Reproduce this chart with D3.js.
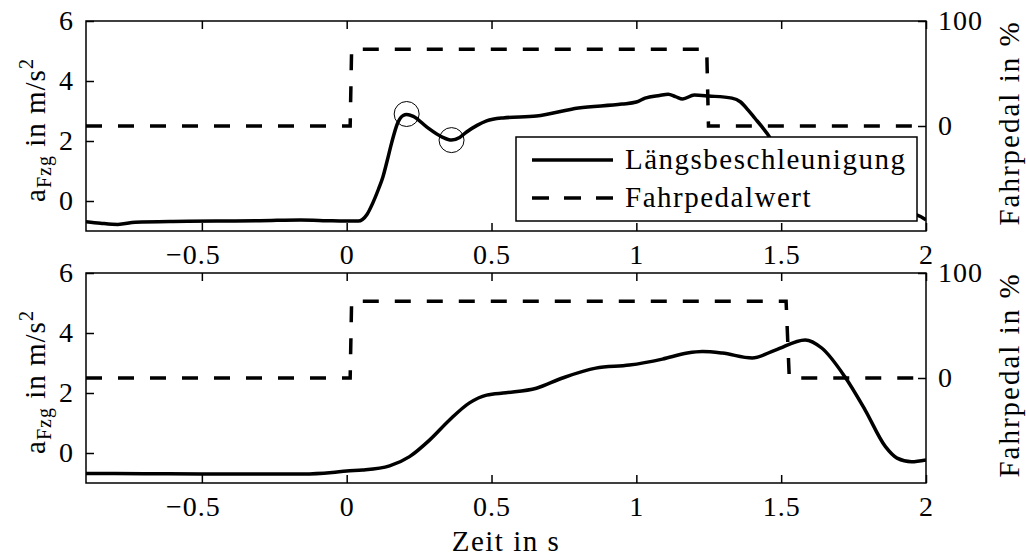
<!DOCTYPE html>
<html>
<head>
<meta charset="utf-8">
<script src="https://cdn.jsdelivr.net/npm/d3@7"></script>
<style>
    body { margin: 0; background: #fff; }
    svg { display: block; }
    svg text { font-family: 'Liberation Serif', 'Times New Roman', serif; fill: #000; }
    .axis path { display: none; }
    .axis line { stroke: #000; stroke-width: 1.5; }
    .axis text { font-size: 28px; letter-spacing: 1px; }
</style>
</head>
<body>
<svg width="1026" height="558"></svg>
<script>
// time axis ticks
const timeTicks = [-0.5, 0, 0.5, 1, 1.5, 2];
const accTicks = [0, 2, 4, 6];
const pedalTicks = [0, 100];

// upper run
const timeTop = [-0.9, -0.85, -0.79, -0.73, -0.6, -0.45, -0.3, -0.16, -0.05, 0.04, 0.07, 0.09, 0.11, 0.125, 0.14, 0.155,
    0.176, 0.195, 0.207, 0.23, 0.276, 0.33, 0.362, 0.39, 0.414, 0.45, 0.483, 0.54, 0.655, 0.8, 0.95, 1.0, 1.03,
    1.08, 1.11, 1.135, 1.16, 1.2, 1.25, 1.33, 1.36, 1.386, 1.41, 1.434, 1.46, 1.5, 1.55, 1.6, 1.7, 1.85, 1.95, 1.97, 2.0];
const accTop = [-0.69, -0.74, -0.78, -0.71, -0.68, -0.67, -0.66, -0.63, -0.66, -0.67, -0.45, -0.07, 0.4, 0.8, 1.35, 1.93,
    2.6, 2.85, 2.88, 2.82, 2.47, 2.13, 2.03, 2.12, 2.3, 2.52, 2.67, 2.77, 2.83, 3.1, 3.23, 3.3, 3.43,
    3.52, 3.56, 3.48, 3.4, 3.53, 3.5, 3.43, 3.3, 3.03, 2.75, 2.47, 2.13, 1.3, 0.4, -0.2, -0.45, -0.42, -0.43, -0.47, -0.63];
const pedalTimeTop = [-0.9, 0.012, 0.017, 1.243, 1.249, 2.0];
const pedalTop = [0, 0, 73, 73, 0, 0];
const markerTime = [0.207, 0.362];
const markerAcc = [2.9, 2.03];

// lower run
const timeBottom = [-0.9, -0.7, -0.5, -0.3, -0.15, -0.05, 0.0, 0.055, 0.148, 0.217, 0.286, 0.355, 0.424, 0.483, 0.55,
    0.655, 0.745, 0.86, 0.976, 1.09, 1.176, 1.228, 1.297, 1.4, 1.48, 1.583, 1.64, 1.72, 1.79, 1.86, 1.9, 1.95, 2.0];
const accBottom = [-0.68, -0.69, -0.7, -0.7, -0.7, -0.65, -0.6, -0.57, -0.43, -0.12, 0.43, 1.1, 1.67, 1.93, 2.01,
    2.16, 2.5, 2.83, 2.93, 3.13, 3.33, 3.38, 3.33, 3.17, 3.43, 3.77, 3.5, 2.54, 1.43, 0.21, -0.17, -0.29, -0.23];
const pedalTimeBottom = [-0.9, 0.012, 0.017, 1.517, 1.528, 2.0];
const pedalBottom = [0, 0, 73, 73, 0, 0];

const legendLabels = ['Längsbeschleunigung', 'Fahrpedalwert'];

const svg = d3.select('svg');
const left = 86, right = 926, panelHeight = 210;
const panelTops = [21, 273];

const x = d3.scaleLinear().domain([-0.9, 2]).range([left, right]);
const fmt = d3.format('');

const runs = [
    {t: timeTop, a: accTop, pt: pedalTimeTop, p: pedalTop, markers: true, legend: true},
    {t: timeBottom, a: accBottom, pt: pedalTimeBottom, p: pedalBottom, markers: false, legend: false}
];

runs.forEach(function (run, i) {
    const top = panelTops[i];
    const bottom = top + panelHeight;
    const y = d3.scaleLinear().domain([-1, 6]).range([bottom, top]);
    const y2 = d3.scaleLinear().domain([-100, 100]).range([bottom, top]);
    const g = svg.append('g');

    g.append('clipPath')
        .attr('id', 'clip' + i)
        .append('rect')
        .attr('x', left).attr('y', top)
        .attr('width', right - left).attr('height', panelHeight);

    const plot = g.append('g').attr('clip-path', 'url(#clip' + i + ')');

    const pedalLine = d3.line()
        .x(function (d) { return x(d[0]); })
        .y(function (d) { return y2(d[1]); });
    plot.append('path')
        .datum(d3.zip(run.pt, run.p))
        .attr('d', pedalLine)
        .attr('fill', 'none')
        .attr('stroke', '#000')
        .attr('stroke-width', 3.5)
        .attr('stroke-dasharray', '16,16');

    const accLine = d3.line()
        .curve(d3.curveMonotoneX)
        .x(function (d) { return x(d[0]); })
        .y(function (d) { return y(d[1]); });
    plot.append('path')
        .datum(d3.zip(run.t, run.a))
        .attr('d', accLine)
        .attr('fill', 'none')
        .attr('stroke', '#000')
        .attr('stroke-width', 3.5);

    if (run.markers) {
        plot.selectAll('circle')
            .data(d3.zip(markerTime, markerAcc))
            .enter().append('circle')
            .attr('cx', function (d) { return x(d[0]); })
            .attr('cy', function (d) { return y(d[1]); })
            .attr('r', 12.5)
            .attr('fill', 'none')
            .attr('stroke', '#000')
            .attr('stroke-width', 1);
    }

    // axes, ticks pointing inward
    const xAxis = g.append('g')
        .attr('class', 'axis')
        .attr('transform', `translate(0,${bottom})`)
        .call(d3.axisBottom(x).tickValues(timeTicks).tickFormat(fmt)
            .tickSizeInner(-8).tickSizeOuter(0).tickPadding(13));
    // minus sign hangs to the left of the centred number
    xAxis.selectAll('text')
        .attr('dx', function (d) { return d < 0 ? -9 : 0; });
    g.append('g')
        .attr('class', 'axis')
        .attr('transform', `translate(0,${top})`)
        .call(d3.axisTop(x).tickValues(timeTicks).tickFormat('')
            .tickSizeInner(-8).tickSizeOuter(0));
    g.append('g')
        .attr('class', 'axis')
        .attr('transform', `translate(${left},0)`)
        .call(d3.axisLeft(y).tickValues(accTicks).tickFormat(fmt)
            .tickSizeInner(-8).tickSizeOuter(0).tickPadding(12));
    g.append('g')
        .attr('class', 'axis')
        .attr('transform', `translate(${right},0)`)
        .call(d3.axisRight(y2).tickValues(pedalTicks).tickFormat(fmt)
            .tickSizeInner(-8).tickSizeOuter(0).tickPadding(12));

    g.append('rect')
        .attr('x', left).attr('y', top)
        .attr('width', right - left).attr('height', panelHeight)
        .attr('fill', 'none')
        .attr('stroke', '#000')
        .attr('stroke-width', 1.5);

    const mid = top + panelHeight / 2;
    const yl = g.append('text')
        .attr('transform', `translate(45,${mid + 4}) rotate(-90)`)
        .attr('text-anchor', 'middle')
        .style('font-size', '29px')
        .style('letter-spacing', '1px');
    yl.append('tspan').text('a');
    yl.append('tspan').attr('dy', 6).style('font-size', '20px').text('Fzg');
    yl.append('tspan').attr('dy', -6).text(' in m/s');
    yl.append('tspan').attr('dy', -12).style('font-size', '20px').text('2');

    g.append('text')
        .attr('transform', `translate(1019,${mid - 3}) rotate(-90)`)
        .attr('text-anchor', 'middle')
        .style('font-size', '29px')
        .style('letter-spacing', '2px')
        .text('Fahrpedal in %');

    if (run.legend) {
        const lg = g.append('g');
        lg.append('rect')
            .attr('x', 516).attr('y', 137)
            .attr('width', 401).attr('height', 84)
            .attr('fill', '#fff')
            .attr('stroke', '#000')
            .attr('stroke-width', 1.5);
        const rows = lg.selectAll('g')
            .data(legendLabels)
            .enter().append('g')
            .attr('transform', function (d, k) { return `translate(0,${160 + k * 38})`; });
        rows.append('line')
            .attr('x1', 532).attr('x2', 613)
            .attr('stroke', '#000')
            .attr('stroke-width', 3.5)
            .attr('stroke-dasharray', function (d, k) { return k ? '17,15' : null; });
        rows.append('text')
            .attr('x', 625)
            .attr('dy', '0.3em')
            .style('font-size', '29px')
            .style('letter-spacing', '1.5px')
            .text(function (d) { return d; });
    }
});

svg.append('text')
    .attr('x', (left + right) / 2)
    .attr('y', 551)
    .attr('text-anchor', 'middle')
    .style('font-size', '29px')
    .style('letter-spacing', '1.5px')
    .text('Zeit in s');
</script>
</body>
</html>
